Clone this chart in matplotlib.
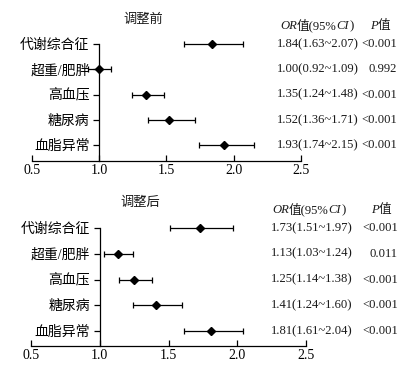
import matplotlib
matplotlib.use('Agg')
import matplotlib.pyplot as plt
from matplotlib.transforms import blended_transform_factory

plt.rcParams['font.family'] = ['Liberation Serif', 'Noto Sans CJK SC']
plt.rcParams['text.color'] = '#1a1a1a'

# 数据
labels = ['代谢综合征', '超重/肥胖', '高血压', '糖尿病', '血脂异常']
titles = ['调整前', '调整后']

or_before = [1.84, 1.00, 1.35, 1.52, 1.93]
lo_before = [1.63, 0.92, 1.24, 1.36, 1.74]
hi_before = [2.07, 1.09, 1.48, 1.71, 2.15]
p_before = ['<0.001', '0.992', '<0.001', '<0.001', '<0.001']

or_after = [1.73, 1.13, 1.25, 1.41, 1.81]
lo_after = [1.51, 1.03, 1.14, 1.24, 1.61]
hi_after = [1.97, 1.24, 1.38, 1.60, 2.04]
p_after = ['<0.001', '0.011', '<0.001', '<0.001', '<0.001']

xticks = [0.5, 1.0, 1.5, 2.0, 2.5]

W, H = 418, 366
fig = plt.figure(figsize=(W / 100, H / 100), dpi=100)
FS_VAL = 9.1


def panel(box, ORs, los, his, ps, title, title_xy, head_y, head_x, ptxt_x, val_x, ybot):
    x0, x1, ytop, yaxis = box
    ax = fig.add_axes([x0 / W, 1 - yaxis / H, (x1 - x0) / W, (yaxis - ytop) / H])
    ys = [5, 4, 3, 2, 1]
    xerr = [[o - l for o, l in zip(ORs, los)], [h - o for o, h in zip(ORs, his)]]
    ax.errorbar(ORs, ys, xerr=xerr, fmt='D', color='k', ms=4, capsize=2,
                elinewidth=0.9, capthick=0.9, clip_on=False)
    ax.set_xlim(0.5, 2.5)
    ax.set_ylim(ybot, 5)
    ax.set_xticks(xticks)
    ax.set_xticklabels(['%.1f' % t for t in xticks], fontsize=10)
    ax.set_yticks(ys)
    ax.set_yticklabels(labels, fontsize=10)
    for s in ['top', 'right']:
        ax.spines[s].set_visible(False)
    ax.spines['left'].set_position(('data', 1.0))
    ax.spines['left'].set_bounds(ybot, 5)
    ax.spines['left'].set_linewidth(0.9)
    ax.spines['bottom'].set_linewidth(0.9)
    ax.tick_params(axis='y', direction='out', length=4, width=0.9, pad=3)
    ax.tick_params(axis='x', direction='in', length=4, width=0.9, pad=2)
    ax.patch.set_alpha(0)

    tr = blended_transform_factory(fig.transFigure, ax.transData)
    for o, l, h, p, y in zip(ORs, los, his, ps, ys):
        ax.text(val_x / W, y, '%.2f(%.2f~%.2f)' % (o, l, h), transform=tr,
                ha='left', va='center', fontsize=FS_VAL)
        ax.text(ptxt_x / W, y, p, transform=tr, ha='right', va='center', fontsize=FS_VAL)

    fig.text(title_xy[0] / W, 1 - title_xy[1] / H, title, ha='center', va='center', fontsize=9.5)

    # 表头 OR值(95%CI)，斜体和正体分段拼接
    t = fig.text(head_x / W, 1 - head_y / H, 'OR', style='italic', fontsize=FS_VAL,
                 ha='left', va='center')
    t2 = ax.annotate('值(95%', xy=(1, 0), xycoords=t, ha='left', va='bottom',
                     fontsize=FS_VAL, annotation_clip=False)
    t3 = ax.annotate('CI', xy=(1, 0), xycoords=t2, ha='left', va='bottom',
                     fontsize=FS_VAL, style='italic', annotation_clip=False)
    ax.annotate(')', xy=(1, 0), xycoords=t3, ha='left', va='bottom', fontsize=FS_VAL,
                annotation_clip=False)
    tp = fig.text((ptxt_x - 27) / W, 1 - head_y / H, 'P', style='italic', fontsize=FS_VAL,
                  ha='left', va='center')
    ax.annotate('值', xy=(1, 0), xycoords=tp, ha='left', va='bottom', fontsize=FS_VAL,
                annotation_clip=False)
    return ax


panel((32, 301, 44, 161), or_before, lo_before, hi_before, p_before, titles[0],
      (143, 20), 26, 280, 397, 277, 0.37)
panel((31, 306, 228, 346), or_after, lo_after, hi_after, p_after, titles[1],
      (140, 203), 210, 272, 398, 271, 0.42)

fig.savefig('out.png', dpi=100, facecolor='white')
